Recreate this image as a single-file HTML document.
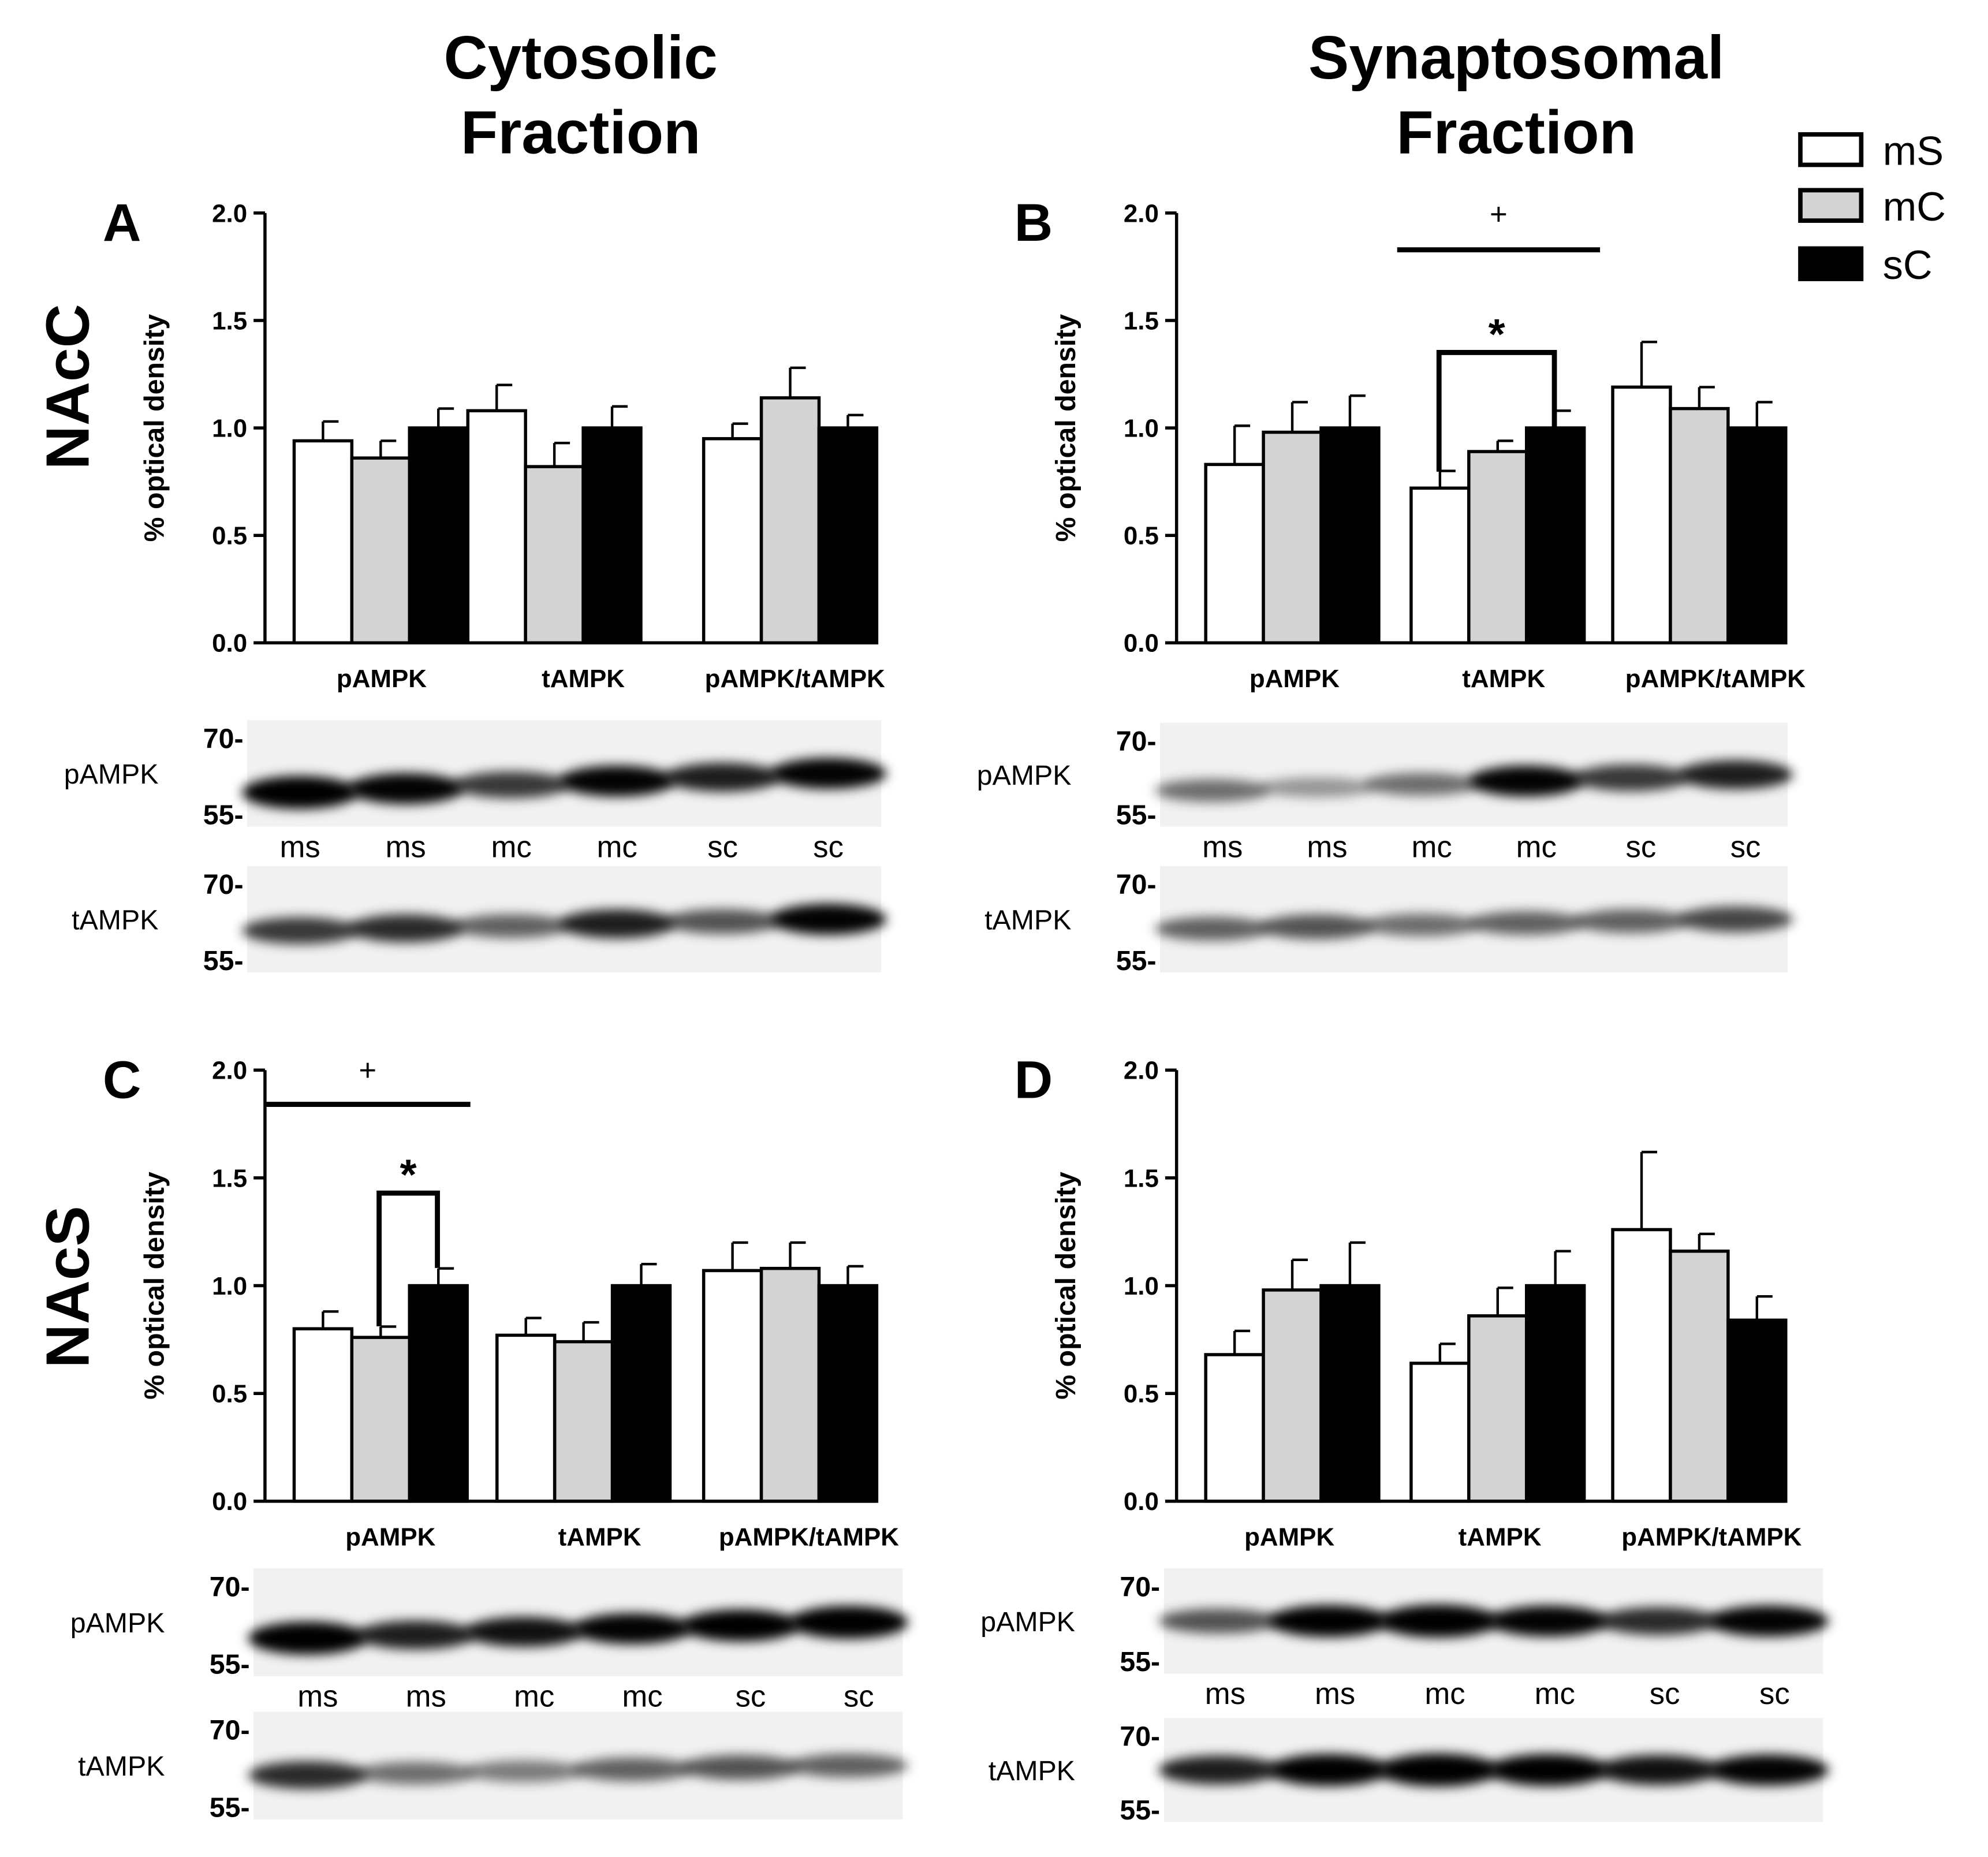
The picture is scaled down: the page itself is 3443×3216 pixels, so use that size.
<!DOCTYPE html>
<html><head><meta charset="utf-8"><style>
html,body{margin:0;padding:0;background:#fff}
svg{display:block}
text{font-family:"Liberation Sans",Arial,sans-serif}
</style></head><body>
<svg id="fig" width="3443" height="3216" viewBox="0 0 1568 1464.6" xmlns="http://www.w3.org/2000/svg">
<defs>
<filter id="blur" x="-20%" y="-100%" width="140%" height="300%"><feGaussianBlur stdDeviation="4.5"/></filter>
</defs>
<text x="458" y="62" font-size="48" font-weight="bold" text-anchor="middle">Cytosolic</text>
<text x="458" y="121" font-size="48" font-weight="bold" text-anchor="middle">Fraction</text>
<text x="1196" y="62" font-size="48" font-weight="bold" text-anchor="middle">Synaptosomal</text>
<text x="1196" y="121" font-size="48" font-weight="bold" text-anchor="middle">Fraction</text>
<text transform="translate(70,305) rotate(-90)" font-size="48" font-weight="bold" text-anchor="middle">NAcC</text>
<text transform="translate(70,1015) rotate(-90)" font-size="48" font-weight="bold" text-anchor="middle">NAcS</text>
<g>
<rect x="1420" y="106" width="48" height="24" fill="#fff" stroke="#000" stroke-width="3.5"/>
<text x="1485" y="130" font-size="32">mS</text>
<rect x="1420" y="150" width="48" height="24" fill="#d3d3d3" stroke="#000" stroke-width="3.5"/>
<text x="1485" y="174" font-size="32">mC</text>
<rect x="1420" y="196" width="48" height="24" fill="#000" stroke="#000" stroke-width="3.5"/>
<text x="1485" y="220" font-size="32">sC</text>
</g>
</svg>
<script>
const categories = ["pAMPK","tAMPK","pAMPK/tAMPK"];
const seriesNames = ["mS","mC","sC"];
const valuesA = [[0.94,0.86,1.0],[1.08,0.82,1.0],[0.95,1.14,1.0]];
const errorsA = [[0.09,0.08,0.09],[0.12,0.11,0.10],[0.07,0.14,0.06]];
const valuesB = [[0.83,0.98,1.0],[0.72,0.89,1.0],[1.19,1.09,1.0]];
const errorsB = [[0.18,0.14,0.15],[0.08,0.05,0.08],[0.21,0.10,0.12]];
const valuesC = [[0.80,0.76,1.0],[0.77,0.74,1.0],[1.07,1.08,1.0]];
const errorsC = [[0.08,0.05,0.08],[0.08,0.09,0.10],[0.13,0.12,0.09]];
const valuesD = [[0.68,0.98,1.0],[0.64,0.86,1.0],[1.26,1.16,0.84]];
const errorsD = [[0.11,0.14,0.20],[0.09,0.13,0.16],[0.36,0.08,0.11]];
const yTicks = [0.0,0.5,1.0,1.5,2.0];
const laneLabels = ["ms","ms","mc","mc","sc","sc"];
const pIntensity = {A:[1.0,0.9,0.7,0.9,0.8,0.9],B:[0.5,0.35,0.5,0.9,0.7,0.8],C:[1.0,0.8,0.85,0.9,0.95,1.0],D:[0.6,0.95,1.0,0.9,0.75,0.9]};
const tIntensity = {A:[0.7,0.75,0.55,0.8,0.6,0.9],B:[0.55,0.6,0.5,0.55,0.55,0.65],C:[0.75,0.5,0.45,0.55,0.6,0.55],D:[0.8,0.95,1.0,0.95,0.85,0.9]};
const fills = ["#fff","#d3d3d3","#000"];
const NS="http://www.w3.org/2000/svg";
const svg=document.getElementById('fig');
function mk(tag,attrs,parent){const e=document.createElementNS(NS,tag);for(const k in attrs)e.setAttribute(k,attrs[k]);(parent||svg).appendChild(e);return e;}

function chart(cfg){
  const g=mk('g',{});
  
  
  const y=v=>cfg.y0-(v/2)*(cfg.y0-cfg.y2);
  const lbl=mk('text',{x:cfg.ax-128,y:cfg.y2+22,'font-size':42,'font-weight':'bold'},g);lbl.textContent=cfg.id;
  
  
  const ax=mk('line',{x1:cfg.ax,y1:cfg.y2,x2:cfg.ax,y2:cfg.y0,stroke:'#000','stroke-width':2.5},g);
  
  
  const xa=mk('line',{x1:cfg.ax,y1:cfg.y0,x2:cfg.groupX[2]+3*cfg.bw,y2:cfg.y0,stroke:'#000','stroke-width':2.5},g);
  
  
  yTicks.forEach(t=>{
    const tl=mk('line',{x1:cfg.ax-9,y1:y(t),x2:cfg.ax,y2:y(t),stroke:'#000','stroke-width':2.5},g);
    
    
    const tx=mk('text',{x:cfg.ax-14,y:y(t)+7,'font-size':20,'font-weight':'bold','text-anchor':'end'},g);
    tx.textContent=t.toFixed(1);
    
    
  });
  const yt=mk('text',{transform:`translate(${cfg.ax-80},${(cfg.y0+cfg.y2)/2}) rotate(-90)`,'font-size':22,'font-weight':'bold','text-anchor':'middle'},g);
  yt.textContent='% optical density';
  
  
  categories.forEach((c,i)=>{
    const gx=cfg.groupX[i];
    cfg.vals[i].forEach((v,j)=>{
      const bx=gx+j*cfg.bw, top=y(v), et=y(v+cfg.errs[i][j]), cx=bx+cfg.bw/2;
      const el=mk('line',{x1:cx,y1:top,x2:cx,y2:et,stroke:'#000','stroke-width':2},g);
      
      
      const ec=mk('line',{x1:cx,y1:et,x2:cx+cfg.bw*0.27,y2:et,stroke:'#000','stroke-width':2},g);
      
      
      const r=mk('rect',{x:bx,y:top,width:cfg.bw,height:cfg.y0-top,fill:fills[j],stroke:'#000','stroke-width':2.5},g);
      
      
    });
    const ct=mk('text',{x:cfg.labelX[i],y:cfg.y0+35,'font-size':20,'font-weight':'bold','text-anchor':'middle'},g);
    ct.textContent=c;
    
    
  });
  [[cfg.blotP,'pAMPK',pIntensity[cfg.id],'p'],[cfg.blotT,'tAMPK',tIntensity[cfg.id],'t']].forEach(([b,name,ints,k])=>{
    const bg=mk('g',{},g);
    
    
    mk('rect',{x:b.x,y:b.y,width:b.w,height:b.h,fill:'#f1f1f1'},bg);
    const lw=b.w/6;
    ints.forEach((v,i)=>{
      const cy=b.y+b.h*0.5+(cfg.slope? (5-i)*cfg.slope*(k=='p'?1:0.6):0);
      const band=mk('ellipse',{cx:b.x+lw*(i+0.5),cy:cy,rx:lw*0.55,ry:5+v*8,fill:'#000','fill-opacity':Math.min(1,v*1.1),filter:'url(#blur)'},bg);
      
      
    });
    const nl=mk('text',{x:b.x-70,y:b.y+b.h/2+8,'font-size':22,'text-anchor':'end'},bg);nl.textContent=name;
    
    
    const m70=mk('text',{x:b.x-3,y:b.y+22,'font-size':22,'font-weight':'bold','text-anchor':'end'},bg);m70.textContent='70-';
    
    
    const m55=mk('text',{x:b.x-3,y:b.y+b.h-2,'font-size':22,'font-weight':'bold','text-anchor':'end'},bg);m55.textContent='55-';
    
    
    if(k=='p'){
      laneLabels.forEach((l,i)=>{
        const ll=mk('text',{x:b.x+lw*(i+0.5)+(cfg.laneShift||0),y:b.y+b.h+24,'font-size':24,'text-anchor':'middle'},bg);
        ll.textContent=l;
        
        
      });
    }
  });
  return {g,y};
}

chart({id:'A',ax:209,y0:507,y2:168,bw:45.5,groupX:[232,369,555],labelX:[301,460,627],vals:valuesA,errs:errorsA,
  blotP:{x:195,y:568,w:500,h:84},blotT:{x:195,y:683,w:500,h:84},slope:3});
chart({id:'B',ax:928,y0:507,y2:168,bw:45.5,groupX:[951,1113,1272],labelX:[1021,1186,1353],vals:valuesB,errs:errorsB,
  blotP:{x:915,y:570,w:495,h:82},blotT:{x:915,y:683,w:495,h:84},slope:2.5,laneShift:8});
chart({id:'C',ax:209,y0:1184,y2:844,bw:45.5,groupX:[232,392,555],labelX:[308,473,638],vals:valuesC,errs:errorsC,
  blotP:{x:200,y:1237,w:512,h:85},blotT:{x:200,y:1350,w:512,h:85},slope:2.5,laneShift:8});
chart({id:'D',ax:928,y0:1184,y2:844,bw:45.5,groupX:[951,1113,1272],labelX:[1017,1183,1350],vals:valuesD,errs:errorsD,
  blotP:{x:918,y:1237,w:520,h:83},blotT:{x:918,y:1355,w:520,h:82},slope:0,laneShift:5});

function sig(x1,x2,lineY,plusY,bx1,bx2,bTop,bBotL,bBotR,starY){
  const g=mk('g',{});
  
  
  mk('line',{x1:x1,y1:lineY,x2:x2,y2:lineY,stroke:'#000','stroke-width':4},g);
  const pl=mk('text',{x:(x1+x2)/2,y:plusY,'font-size':24,'text-anchor':'middle'},g);pl.textContent='+';
  mk('path',{d:`M${bx1},${bBotL} L${bx1},${bTop} L${bx2},${bTop} L${bx2},${bBotR}`,fill:'none',stroke:'#000','stroke-width':4},g);
  const st=mk('text',{x:(bx1+bx2)/2,y:starY,'font-size':34,'font-weight':'bold','text-anchor':'middle'},g);st.textContent='*';
}
sig(1102,1262,197,177,1135,1226,278,372,343,275);
sig(209,371,871,852,299,345,941,1046,1000,938);
</script>
</body></html>
